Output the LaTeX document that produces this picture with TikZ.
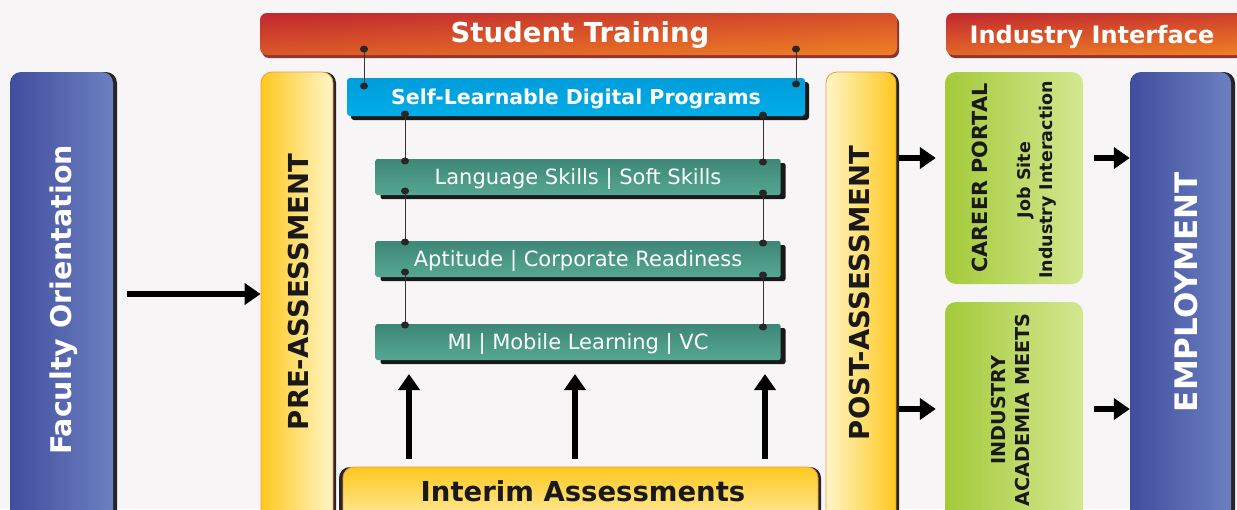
\documentclass[tikz,border=0pt]{standalone}
\usepackage{fontspec}
\setmainfont{DejaVu Sans}
\usetikzlibrary{arrows.meta,shadows,shapes.geometric}
\definecolor{bgc}{HTML}{F7F5F5}
\definecolor{blueL}{HTML}{414C9E}
\definecolor{blueR}{HTML}{6B80C0}
\definecolor{yelD}{HTML}{FFC81E}
\definecolor{yelL}{HTML}{FFF6C8}
\definecolor{orb}{HTML}{F39A3C}
\definecolor{redA}{HTML}{C22A2E}
\definecolor{redB}{HTML}{EF7E24}
\definecolor{redS}{HTML}{8E3534}
\definecolor{skyA}{HTML}{009CDB}
\definecolor{skyB}{HTML}{00AEE6}
\definecolor{tealA}{HTML}{3E8676}
\definecolor{tealB}{HTML}{55A892}
\definecolor{grnL}{HTML}{A4CA3A}
\definecolor{grnR}{HTML}{D4E790}
\definecolor{lnk}{HTML}{333333}
\tikzset{
  box/.style={rounded corners=11pt, inner sep=0pt},
  blk/.style={box, left color=blueL, right color=blueR,
     drop shadow={shadow xshift=4pt, shadow yshift=0pt, opacity=1, fill=black!85}},
  yelbox/.style={box, draw=orb, line width=0.8pt,
     drop shadow={shadow xshift=3pt, shadow yshift=0pt, opacity=1, fill=black!85}},
  redbar/.style={rounded corners=7pt, inner sep=0pt, top color=redA, bottom color=redB, shading angle=3,
     drop shadow={shadow xshift=2pt, shadow yshift=-3pt, opacity=1, fill=redS}},
  skybox/.style={rounded corners=3pt, inner sep=0pt, top color=skyA, bottom color=skyB,
     drop shadow={shadow xshift=4pt, shadow yshift=-4pt, opacity=1, fill=black!90}},
  tealbox/.style={rounded corners=2pt, inner sep=0pt, top color=tealA, bottom color=tealB,
     text height=20pt, text depth=5pt,
     drop shadow={shadow xshift=5pt, shadow yshift=-4pt, opacity=1, fill=black!90}},
  grnbox/.style={rounded corners=11pt, inner sep=0pt, left color=grnL, right color=grnR},
  bigarrow/.style={line width=6pt, -{Triangle[length=16pt,width=21pt]}},
  link/.style={draw=lnk, line width=0.9pt},
  dot/.style={ellipse, fill=black!85, inner sep=0pt, minimum width=8pt, minimum height=7pt},
  wt/.style={text=white, font=\bfseries},
}
\begin{document}
\begin{tikzpicture}[x=1pt,y=-1pt]
\fill[bgc] (0,0) rectangle (1237,509);
\useasboundingbox (0,0) rectangle (1237,509);

% top bars
\node[redbar, minimum width=637pt, minimum height=42pt] (st) at (578.5,34) {};
\node[wt, font=\bfseries\fontsize{27.5}{30}\selectfont] (stt) at (580,35) {Student Training};
\node[redbar, minimum width=300pt, minimum height=42pt] (ii) at (1096,34) {};
\node[wt, font=\bfseries\fontsize{24}{26}\selectfont] (iit) at (1092,37) {Industry Interface};

% Faculty Orientation
\node[blk, minimum width=103pt, minimum height=460pt] (fo) at (61.5,302) {};
\node[wt, rotate=90, font=\bfseries\fontsize{28.5}{32}\selectfont] (fot) at (64,300) {Faculty Orientation};

% pre / post
\node[yelbox, left color=yelD, right color=yelL, minimum width=72pt, minimum height=460pt] (pre) at (297,302) {};
\node[rotate=90, font=\bfseries\fontsize{27.5}{30}\selectfont, text=black!90] (pret) at (298,292) {PRE-ASSESSMENT};
\node[yelbox, left color=yelL, right color=yelD, minimum width=70pt, minimum height=460pt] (post) at (861,302) {};
\node[rotate=90, font=\bfseries\fontsize{27.5}{30}\selectfont, text=black!90] (postt) at (859,293) {POST-ASSESSMENT};

% interim
\node[yelbox, top color=yelD, bottom color=yelL, minimum width=475pt, minimum height=70pt,
  drop shadow={shadow xshift=-4pt, shadow yshift=0pt, opacity=1, fill=black!85}] (ia) at (580.5,502) {};
\node[font=\bfseries\fontsize{27.5}{30}\selectfont, text=black!90] (iat) at (583,491) {Interim Assessments};

% self learnable
\node[skybox, minimum width=458pt, minimum height=38pt, wt, font=\bfseries\fontsize{20.5}{24}\selectfont,
  text height=19pt, text depth=5pt] (sl) at (576,97) {Self-Learnable Digital Programs};

% teal boxes
\node[tealbox, minimum width=405pt, minimum height=36pt, text=white, font=\fontsize{21}{24}\selectfont] (ls) at (578,177) {Language Skills | Soft Skills};
\node[tealbox, minimum width=405pt, minimum height=36pt, text=white, font=\fontsize{21}{24}\selectfont] (ap) at (578,259) {Aptitude | Corporate Readiness};
\node[tealbox, minimum width=405pt, minimum height=36pt, text=white, font=\fontsize{21}{24}\selectfont] (mi) at (578,342) {MI | Mobile Learning | VC};

% green boxes
\node[grnbox, minimum width=138pt, minimum height=212pt] (cp) at (1014,178) {};
\node[rotate=90, font=\bfseries\fontsize{20.8}{22}\selectfont, text=black!90] (cpt) at (980,178) {CAREER PORTAL};
\node[rotate=90, font=\bfseries\fontsize{17.5}{22}\selectfont, text=black!90, align=center] (cps) at (1037,180) {Job Site\\Industry Interaction};
\node[grnbox, minimum width=138pt, minimum height=230pt] (iam) at (1014,417) {};
\node[rotate=90, font=\bfseries\fontsize{19.2}{24}\selectfont, text=black!90, align=center] (iamt) at (1010,410) {INDUSTRY\\ACADEMIA MEETS};

% employment
\node[blk, minimum width=101pt, minimum height=460pt] (emp) at (1180.5,302) {};
\node[wt, rotate=90, font=\bfseries\fontsize{31}{34}\selectfont] (empt) at (1186,292) {EMPLOYMENT};

% link dots
\foreach \n/\x/\y in {a1/364/49, a2/364/86, b1/796/49, b2/796/84,
  c1/405/114, c2/405/161, c3/405/191, c4/405/242, c5/405/272, c6/405/325,
  e1/763/115, e2/763/162, e3/763/193, e4/763/243, e5/763/275, e6/763/327}
  {\coordinate (\n) at (\x,\y);}
\draw[link] (a1) -- (a2) (b1) -- (b2) (c1) -- (c2) (c3) -- (c4) (c5) -- (c6)
  (e1) -- (e2) (e3) -- (e4) (e5) -- (e6);
\foreach \n in {a1,a2,b1,b2,c1,c2,c3,c4,c5,c6,e1,e2,e3,e4,e5,e6}
  \node[dot] (dot\n) at (\n) {};

% arrows
\coordinate (fa) at (127,294);
\draw[bigarrow] (fa) -- (fa -| pre.west);
\foreach \n/\x in {u1/409,u2/575,u3/765}{
  \coordinate (\n) at (\x,459);
  \draw[bigarrow] (\n) -- (\x,374);
}
\coordinate (p1) at (899,158);
\coordinate (p2) at (899,409);
\draw[bigarrow, shorten >=9pt] (p1) -- (p1 -| cp.west);
\draw[bigarrow, shorten >=9pt] (p2) -- (p2 -| iam.west);
\coordinate (q1) at (1094,158);
\coordinate (q2) at (1094,409);
\draw[bigarrow] (q1) -- (q1 -| emp.west);
\draw[bigarrow] (q2) -- (q2 -| emp.west);
\end{tikzpicture}
\end{document}
